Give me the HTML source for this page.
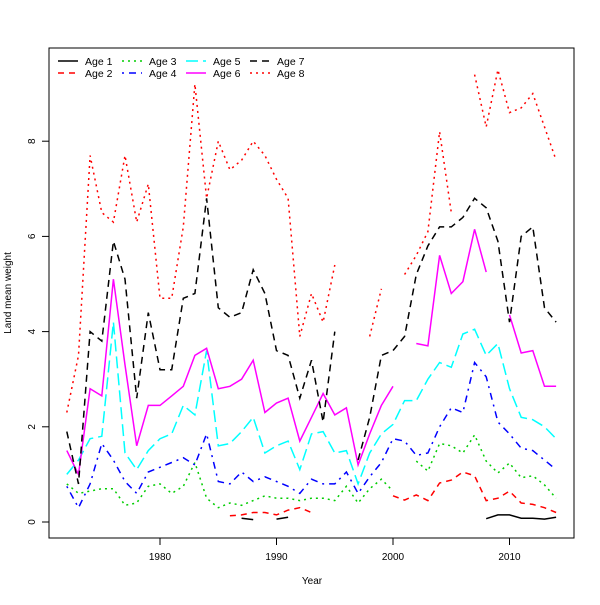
<!DOCTYPE html>
<html><head><meta charset="utf-8"><style>
body{margin:0;background:#fff;}
svg{font-family:"Liberation Sans","DejaVu Sans",sans-serif;}
</style></head><body>
<svg id="chart" width="600" height="600" xmlns="http://www.w3.org/2000/svg">
<rect x="0" y="0" width="600" height="600" fill="#fff"/>
<g id="plot"></g>
</svg>
<script>
const years = [];
for (let y = 1972; y <= 2014; y++) years.push(y);
const N = null;
const age1 = [N,N,N,N,N,N,N,N,N,N,N,N,N,N,N,0.08,0.05,N,0.06,0.1,N,N,N,N,N,N,N,N,N,N,N,N,N,N,N,N,0.07,0.15,0.15,0.08,0.08,0.06,0.1];
const age2 = [N,N,N,N,N,N,N,N,N,N,N,N,N,N,0.13,0.15,0.2,0.2,0.15,0.25,0.3,0.2,N,N,N,N,N,N,0.55,0.46,0.57,0.45,0.82,0.88,1.05,0.97,0.45,0.5,0.65,0.4,0.37,0.3,0.2];
const age3 = [0.8,0.6,0.65,0.7,0.7,0.35,0.4,0.75,0.8,0.6,0.75,1.25,0.5,0.3,0.4,0.35,0.45,0.55,0.5,0.5,0.45,0.5,0.5,0.45,0.75,0.4,0.7,0.9,0.65,N,1.28,1.07,1.65,1.6,1.45,1.83,1.28,1.03,1.24,0.93,0.97,0.78,0.5];
const age4 = [0.75,0.3,0.8,1.65,1.3,0.85,0.6,1.05,1.15,1.25,1.35,1.2,1.85,0.85,0.8,1.05,0.85,0.95,0.85,0.75,0.6,0.9,0.8,0.8,1.05,0.6,0.95,1.25,1.75,1.7,1.4,1.45,2.0,2.4,2.3,3.35,3.05,2.1,1.85,1.55,1.5,1.3,1.1];
const age5 = [1.0,1.3,1.75,1.8,4.2,1.45,1.1,1.5,1.75,1.85,2.45,2.25,3.6,1.6,1.65,1.9,2.2,1.45,1.6,1.7,1.1,1.85,1.9,1.45,1.5,0.8,1.45,1.85,2.05,2.55,2.55,3.0,3.35,3.25,3.95,4.05,3.5,3.75,2.8,2.2,2.15,2.0,1.75];
const age6 = [1.5,1.0,2.8,2.65,5.1,3.3,1.6,2.45,2.45,2.65,2.85,3.5,3.65,2.8,2.85,3.0,3.4,2.3,2.5,2.6,1.7,2.2,2.7,2.25,2.4,1.2,1.85,2.45,2.85,N,3.75,3.7,5.6,4.8,5.05,6.15,5.25,N,4.35,3.55,3.6,2.85,2.85];
const age7 = [1.9,0.8,4.0,3.8,5.9,5.1,2.6,4.4,3.2,3.2,4.7,4.8,6.8,4.5,4.3,4.4,5.3,4.8,3.6,3.5,2.6,3.4,2.1,4.0,N,1.3,2.2,3.5,3.6,3.9,5.2,5.8,6.2,6.2,6.4,6.8,6.6,5.9,4.2,6.0,6.2,4.5,4.2];
const age8 = [2.3,3.5,7.7,6.5,6.3,7.7,6.3,7.1,4.7,4.7,6.2,9.2,6.8,8.0,7.4,7.6,8.0,7.7,7.2,6.8,3.9,4.8,4.2,5.4,N,N,3.9,4.9,N,5.2,5.6,6.1,8.2,6.5,N,9.4,8.3,9.5,8.6,8.7,9.0,8.3,7.6];
const xTicks = [1980,1990,2000,2010];
const yTicks = [0,2,4,6,8];
const seriesNames = ["Age 1","Age 2","Age 3","Age 4","Age 5","Age 6","Age 7","Age 8"];

const NS = "http://www.w3.org/2000/svg";
const g = document.getElementById('plot');
function X(yr){ return 160 + (yr-1980)*11.65; }
function Y(v){ return 522 - v*47.6; }
function el(tag, attrs, parent){ const e=document.createElementNS(NS,tag); for(const k in attrs) e.setAttribute(k,attrs[k]); (parent||g).appendChild(e); return e; }

const styles = [
 {c:"#000000", d:""},
 {c:"#ff0000", d:"6,5"},
 {c:"#00cd00", d:"2,4"},
 {c:"#0000ff", d:"2,5,7,5"},
 {c:"#00ffff", d:"12,5"},
 {c:"#ff00ff", d:""},
 {c:"#000000", d:"7,5"},
 {c:"#ff0000", d:"2,4"}
];
const allSeries = [age1,age2,age3,age4,age5,age6,age7,age8];

const fr = el('rect',{x:49,y:48,width:525,height:490,fill:'none',stroke:'#000','stroke-width':1});



xTicks.forEach(t=>{
  const l = el('line',{x1:X(t),x2:X(t),y1:538,y2:545,stroke:'#000'});
  
  
  const tx = el('text',{x:X(t),y:560,'font-size':10,'text-anchor':'middle'});
  tx.textContent = t;
  
  
});
yTicks.forEach(t=>{
  const l = el('line',{x1:42,x2:49,y1:Y(t),y2:Y(t),stroke:'#000'});
  
  
  const tx = el('text',{x:35,y:Y(t),'font-size':10,'text-anchor':'middle',transform:`rotate(-90 35 ${Y(t)})`});
  tx.textContent = t;
  
  
});
const xt = el('text',{x:312,y:584,'font-size':10,'text-anchor':'middle'});
xt.textContent='Year';


const yt = el('text',{x:11,y:293,'font-size':10,'text-anchor':'middle',transform:'rotate(-90 11 293)'});
yt.textContent='Land mean weight';



allSeries.forEach((s,i)=>{
  let segs=[], cur=[];
  s.forEach((v,j)=>{ if(v===null){ if(cur.length) segs.push(cur); cur=[]; } else cur.push(X(years[j]).toFixed(1)+','+Y(v).toFixed(1)); });
  if(cur.length) segs.push(cur);
  segs.forEach(sg=>{
    if(sg.length<2) return;
    const p = el('polyline',{points:sg.join(' '),fill:'none',stroke:styles[i].c,'stroke-width':1.5,'stroke-dasharray':styles[i].d||'none'});
    
    
  });
});

seriesNames.forEach((n,i)=>{
  const col = Math.floor(i/2), row = i%2;
  const lx = 58 + col*64, ly = 61 + row*12;
  const l = el('line',{x1:lx,x2:lx+20,y1:ly,y2:ly,stroke:styles[i].c,'stroke-width':1.5,'stroke-dasharray':styles[i].d||'none'});
  
  
  const t = el('text',{x:lx+27,y:ly+4,'font-size':10.5});
  t.textContent = n;
  
  
});
</script>
</body></html>
